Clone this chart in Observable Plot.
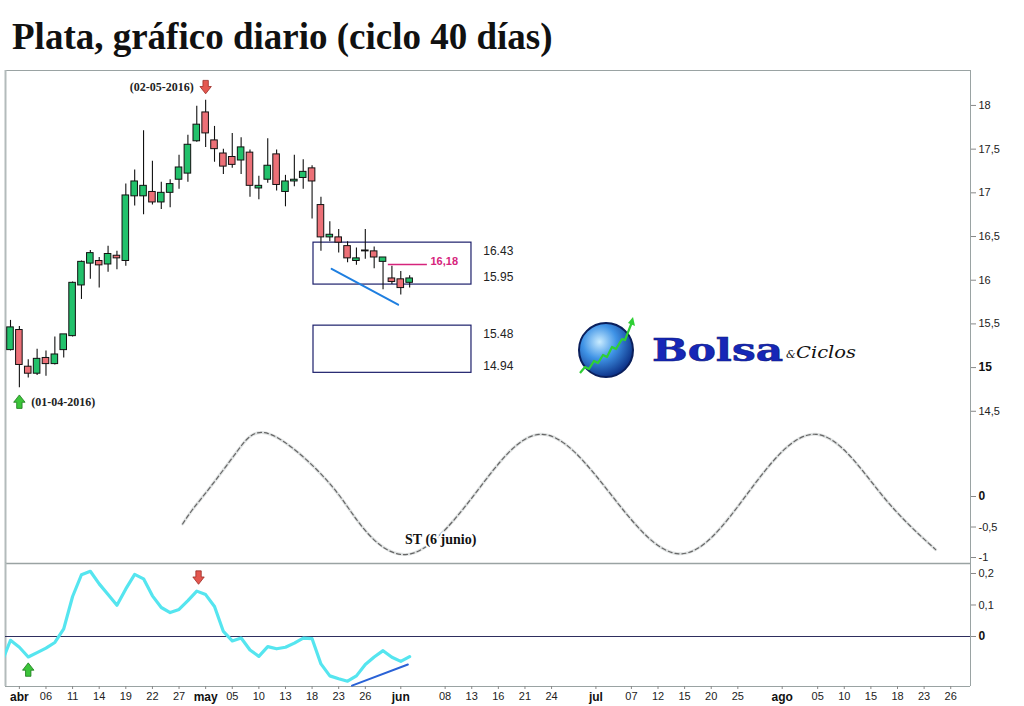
<!DOCTYPE html>
<html><head><meta charset="utf-8">
<script src="https://cdn.jsdelivr.net/npm/d3@7"></script>
<script src="https://cdn.jsdelivr.net/npm/@observablehq/plot@0.6"></script>
<style>
body{margin:0;background:#fff;}
#wrap{position:relative;width:1024px;height:706px;overflow:hidden;background:#fff;}
#title{position:absolute;left:12px;top:18px;font:bold 37px/1 "Liberation Serif","Times New Roman",serif;color:#111;white-space:nowrap;}
.panel{position:absolute;left:0;}
</style></head><body>
<div id="wrap">
  <div id="title">Plata, gráfico diario (ciclo 40 días)</div>
  <div id="p1" class="panel" style="top:70px"></div>
  <div id="p2" class="panel" style="top:430px"></div>
  <div id="p3" class="panel" style="top:563px"></div>
  <svg id="logo" style="position:absolute;left:570px;top:312px" width="300" height="76">
    <defs>
      <radialGradient id="lg" cx="38%" cy="35%" r="70%">
        <stop offset="0" stop-color="#c9ecff"/>
        <stop offset="0.45" stop-color="#3f93e6"/>
        <stop offset="1" stop-color="#08297f"/>
      </radialGradient>
    </defs>
    <circle cx="36" cy="38" r="27" fill="url(#lg)" stroke="#0a1f5c" stroke-width="2"/>
    <polyline points="10,61 15,55 19,57 24,49 28,51 33,43 37,45 42,35 46,37 52,27 55,28 62,10" fill="none" stroke="#2fcf35" stroke-width="2.2" stroke-linejoin="round"/>
    <polygon points="63,5 65,14 58,11" fill="#2fcf35"/>
    <text x="82" y="49" font-family="DejaVu Serif" font-weight="bold" font-size="32" fill="#1627b8" stroke="#0d1a80" stroke-width="0.6" textLength="131" lengthAdjust="spacingAndGlyphs">Bolsa</text>
    <text x="216" y="46" font-family="DejaVu Serif" font-style="italic" font-size="11" fill="#111">&amp;</text>
    <text x="226" y="46" font-family="DejaVu Serif" font-style="italic" font-size="17" fill="#111" textLength="60" lengthAdjust="spacingAndGlyphs">Ciclos</text>
  </svg>
</div>
<script>
// ---------- data (trading-day index 0 = 31-03-2016) ----------
const openP  = [15.20,15.43,15.01,14.93,15.11,15.04,15.20,15.36,15.94,16.19,16.22,16.18,16.28,16.22,16.96,16.96,17.01,16.89,17.00,17.15,17.22,17.59,17.92,17.60,17.45,17.41,17.37,17.46,17.05,17.15,17.44,17.01,17.13,17.17,17.28,16.86,16.49,16.49,16.39,16.22,16.34,16.33,16.21,16.02,16.01,15.97];
const highP  = [15.54,15.47,15.09,15.21,15.19,15.35,15.38,15.98,16.22,16.34,16.26,16.39,16.33,17.10,17.26,17.71,17.36,17.12,17.15,17.43,17.66,17.99,18.06,17.76,17.50,17.68,17.63,17.49,17.19,17.62,17.49,17.20,17.43,17.38,17.31,16.95,16.67,16.58,16.44,16.37,16.58,16.38,16.26,16.16,16.10,16.05];
const lowP   = [15.19,14.77,14.88,14.91,14.90,15.03,15.11,15.35,15.78,16.01,15.91,16.09,16.12,16.16,16.85,16.75,16.86,16.81,16.83,17.04,17.12,17.58,17.52,17.35,17.21,17.28,17.21,16.95,16.92,17.11,17.02,16.84,17.07,17.04,16.70,16.33,16.44,16.31,16.20,16.17,16.24,16.13,15.89,15.95,15.83,15.91];
const closeP = [15.46,15.03,14.93,15.10,15.04,15.15,15.38,15.97,16.21,16.31,16.17,16.30,16.25,16.97,17.13,17.08,16.89,17.00,17.10,17.29,17.55,17.78,17.68,17.50,17.30,17.32,17.52,17.08,17.08,17.31,17.09,17.13,17.15,17.24,17.13,16.49,16.52,16.43,16.25,16.25,16.33,16.26,16.26,15.98,15.91,16.02];

// oscillator, first value on day index -1
const oscStart = -1;
const oscValues = [-0.083,-0.012,-0.034,-0.065,-0.051,-0.037,-0.019,0.024,0.127,0.196,0.207,0.167,0.133,0.099,0.151,0.197,0.183,0.129,0.092,0.076,0.086,0.114,0.144,0.133,0.095,0.016,-0.014,-0.005,-0.043,-0.063,-0.032,-0.039,-0.034,-0.021,-0.005,-0.007,-0.087,-0.125,-0.134,-0.142,-0.125,-0.089,-0.065,-0.045,-0.066,-0.079,-0.064];

// theoretical 40-day cycle curve
const cycleX = [19.4,20.6,22.5,25.6,29.3,35.7,39.5,45.1,52.4,59.8,67.6,75.5,83.1,90.8,98.1,104.3];
const cycleY = [-0.45,-0.20,0.15,0.75,1.02,0.26,-0.47,-0.94,0.05,1.02,0.05,-0.94,0.05,1.02,0.05,-0.87];

// target boxes
const boxX1 = [34.16, 34.16];
const boxX2 = [51.97, 51.97];
const boxTop = [16.43, 15.48];
const boxBottom = [15.95, 14.94];
const boxLabelX = 53.3;

// annotations
const levelValue = 16.18, levelLabel = "16,18", levelX = [42.6, 47.0];
const priceTrendX = [36.2, 43.7], priceTrendY = [16.13, 15.72];
const oscTrendX = [38.5, 44.8], oscTrendY = [-0.156, -0.089];
const topDate = {x: 22, y: 18.21, label: "(02-05-2016)"};
const lowDate = {x: 1, y: 14.61, label: "(01-04-2016)"};
const oscTopArrow = {x: 21.2, y: 0.187};
const oscLowArrow = {x: 2, y: -0.105};
const stLabel = {x: 48.5, y: -0.70, label: "ST (6 junio)"};

// axes
const priceTicks = [14.5, 15, 15.5, 16, 16.5, 17, 17.5, 18];
const priceBold = [15];
const cycleTicks = [-1, -0.5, 0];
const cycleBold = [0];
const oscTicks = [0, 0.1, 0.2];
const oscBold = [0];
const monthTickIdx = [1, 22, 44, 66, 87];
const monthTickLabels = ["abr", "may", "jun", "jul", "ago"];
const dayTickIdx = [4,7,10,13,16,19,25,28,31,34,37,40,49,52,55,58,61,70,73,76,79,82,91,94,97,100,103,106];
const dayTickLabels = ["06","11","14","19","22","27","05","10","13","18","23","26","08","13","16","21","24","07","12","15","20","25","05","10","15","18","23","26"];

// ---------- build ----------
const candles = openP.map((o, i) => ({i, open: o, high: highP[i], low: lowP[i], close: closeP[i]}));
const osc = oscValues.map((v, k) => ({i: k + oscStart, v}));
const cycle = cycleX.map((x, k) => ({x, y: cycleY[k]}));
const boxes = boxX1.map((x1, k) => ({x1, x2: boxX2[k], top: boxTop[k], bottom: boxBottom[k]}));
const priceTrend = priceTrendX.map((x, k) => ({x, y: priceTrendY[k]}));
const oscTrend = oscTrendX.map((x, k) => ({x, y: oscTrendY[k]}));
const monthMap = new Map(monthTickIdx.map((d, k) => [d, monthTickLabels[k]]));
const dayMap = new Map(dayTickIdx.map((d, k) => [d, dayTickLabels[k]]));

const XD = [-0.564, 108.23];
const W = 1024, ML = 5, MR = 54;
const UP = "#22c16b", DOWN = "#ec7077";
const BORDER = "#9aa3a3";
const fmt = d => String(d).replace(".", ",");
const baseStyle = {background: "transparent", overflow: "visible", fontFamily: "Liberation Sans, Arial, sans-serif", fontSize: "11px", color: "#222"};

const arrowDown = {draw(ctx, size) {
  const r = Math.sqrt(size / Math.PI), w = r * 0.45, hw = r * 0.95, h = r * 1.12, m = -r * 0.1;
  ctx.moveTo(-w, -h); ctx.lineTo(w, -h); ctx.lineTo(w, m); ctx.lineTo(hw, m); ctx.lineTo(0, h);
  ctx.lineTo(-hw, m); ctx.lineTo(-w, m); ctx.closePath();
}};
const arrowUp = {draw(ctx, size) {
  const r = Math.sqrt(size / Math.PI), w = r * 0.45, hw = r * 0.95, h = r * 1.12, m = r * 0.1;
  ctx.moveTo(-w, h); ctx.lineTo(w, h); ctx.lineTo(w, m); ctx.lineTo(hw, m); ctx.lineTo(0, -h);
  ctx.lineTo(-hw, m); ctx.lineTo(-w, m); ctx.closePath();
}};

const serifBold = {fontFamily: "Liberation Serif, Times New Roman, serif", fontWeight: "bold"};

const p1 = Plot.plot({
  width: W, height: 360, marginLeft: ML, marginRight: MR, marginTop: 0, marginBottom: 0,
  style: baseStyle,
  x: {domain: XD, axis: null},
  y: {domain: [14.28, 18.40], label: null},
  marks: [
    Plot.ruleY([18.40], {stroke: BORDER}),
    Plot.ruleX([XD[0]], {stroke: "#b3bbbb", strokeWidth: 2}),
    Plot.ruleX([XD[1]], {stroke: BORDER}),
    Plot.axisY(priceTicks.filter(t => !priceBold.includes(t)), {anchor: "right", tickSize: 5, tickPadding: 3, tickFormat: fmt, stroke: "#888", fill: "#222", fontSize: 11}),
    Plot.axisY(priceBold, {anchor: "right", tickSize: 5, tickPadding: 3, tickFormat: fmt, stroke: "#888", fill: "#111", fontSize: 12, fontWeight: "bold"}),
    Plot.rect(boxes, {x1: "x1", x2: "x2", y1: "bottom", y2: "top", fill: "none", stroke: "#1c1f6b", strokeWidth: 1.2}),
    Plot.text(boxes, {x: () => boxLabelX, y: "top", text: d => d.top.toFixed(2), textAnchor: "start", dy: 9, fontSize: 12, fill: "#222"}),
    Plot.text(boxes, {x: () => boxLabelX, y: "bottom", text: d => d.bottom.toFixed(2), textAnchor: "start", dy: -7, fontSize: 12, fill: "#222"}),
    Plot.ruleX(candles, {x: "i", y1: "low", y2: "high", stroke: "#111", strokeWidth: 1.1}),
    Plot.rect(candles, {x1: d => d.i - 0.37, x2: d => d.i + 0.37, y1: "open", y2: "close", fill: d => d.close >= d.open ? UP : DOWN, stroke: "#111", strokeWidth: 1}),
    Plot.ruleY([levelValue], {x1: levelX[0], x2: levelX[1], stroke: "#d6247c", strokeWidth: 1.3}),
    Plot.text([levelValue], {x: () => levelX[1] + 0.35, y: d => d, text: () => levelLabel, textAnchor: "start", dy: -3, fill: "#d6247c", fontWeight: "bold", fontSize: 11}),
    Plot.line(priceTrend, {x: "x", y: "y", stroke: "#1f7fe0", strokeWidth: 2}),
    Plot.dot([topDate], {x: "x", y: "y", symbol: arrowDown, r: 6, fill: "#e4574f", stroke: "#9b2b25", strokeWidth: 0.8}),
    Plot.text([topDate], {x: "x", y: "y", text: "label", textAnchor: "end", dx: -12, fontSize: 12, fill: "#222", ...serifBold}),
    Plot.dot([lowDate], {x: "x", y: "y", symbol: arrowUp, r: 6, fill: "#3cc43a", stroke: "#1b7a1b", strokeWidth: 0.8}),
    Plot.text([lowDate], {x: "x", y: "y", text: "label", textAnchor: "start", dx: 12, fontSize: 12, fill: "#222", ...serifBold})
  ]
});
document.getElementById("p1").appendChild(p1);

const p2 = Plot.plot({
  width: W, height: 133, marginLeft: ML, marginRight: MR, marginTop: 0, marginBottom: 0,
  style: baseStyle,
  x: {domain: XD, axis: null},
  y: {domain: [-1.098, 1.082], label: null},
  marks: [
    Plot.ruleX([XD[0]], {stroke: "#b3bbbb", strokeWidth: 2}),
    Plot.ruleX([XD[1]], {stroke: BORDER}),
    Plot.ruleY([-1.098], {stroke: BORDER, strokeWidth: 1.3}),
    Plot.axisY(cycleTicks.filter(t => !cycleBold.includes(t)), {anchor: "right", tickSize: 5, tickPadding: 3, tickFormat: fmt, stroke: "#888", fill: "#222", fontSize: 11}),
    Plot.axisY(cycleBold, {anchor: "right", tickSize: 5, tickPadding: 3, tickFormat: fmt, stroke: "#888", fill: "#111", fontSize: 12, fontWeight: "bold"}),
    Plot.line(cycle, {x: "x", y: "y", curve: "natural", stroke: "#c9cfcf", strokeWidth: 3, strokeOpacity: 0.6}),
    Plot.line(cycle, {x: "x", y: "y", curve: "natural", stroke: "#666", strokeWidth: 1.2, strokeDasharray: "4,3"}),
    Plot.text([stLabel], {x: "x", y: "y", text: "label", fontSize: 14, fill: "#111", stroke: "white", strokeWidth: 4, ...serifBold})
  ]
});
document.getElementById("p2").appendChild(p2);

const p3 = Plot.plot({
  width: W, height: 143, marginLeft: ML, marginRight: MR, marginTop: 0, marginBottom: 20,
  style: baseStyle,
  x: {domain: XD, label: null},
  y: {domain: [-0.1587, 0.2317], label: null},
  marks: [
    Plot.ruleX([XD[0]], {stroke: "#b3bbbb", strokeWidth: 2}),
    Plot.ruleX([XD[1]], {stroke: BORDER}),
    Plot.ruleY([-0.1587], {stroke: BORDER}),
    Plot.ruleY([0], {stroke: "#2e2e5e", strokeWidth: 1.2}),
    Plot.axisY(oscTicks.filter(t => !oscBold.includes(t)), {anchor: "right", tickSize: 5, tickPadding: 3, tickFormat: fmt, stroke: "#888", fill: "#222", fontSize: 11}),
    Plot.axisY(oscBold, {anchor: "right", tickSize: 5, tickPadding: 3, tickFormat: fmt, stroke: "#888", fill: "#111", fontSize: 12, fontWeight: "bold"}),
    Plot.axisX(dayTickIdx, {anchor: "bottom", tickSize: 3, tickPadding: 3, tickFormat: d => dayMap.get(d), stroke: "#888", fill: "#222", fontSize: 11}),
    Plot.axisX(monthTickIdx, {anchor: "bottom", tickSize: 3, tickPadding: 3, tickFormat: d => monthMap.get(d), stroke: "#888", fill: "#111", fontSize: 12, fontWeight: "bold"}),
    Plot.line(osc, {x: "i", y: "v", stroke: "#55e5ef", strokeWidth: 3.2, strokeLinejoin: "round", clip: true}),
    Plot.line(oscTrend, {x: "x", y: "y", stroke: "#2a62d6", strokeWidth: 2}),
    Plot.dot([oscTopArrow], {x: "x", y: "y", symbol: arrowDown, r: 6, fill: "#e4574f", stroke: "#9b2b25", strokeWidth: 0.8}),
    Plot.dot([oscLowArrow], {x: "x", y: "y", symbol: arrowUp, r: 6, fill: "#3cc43a", stroke: "#1b7a1b", strokeWidth: 0.8})
  ]
});
document.getElementById("p3").appendChild(p3);
</script>
</body></html>
